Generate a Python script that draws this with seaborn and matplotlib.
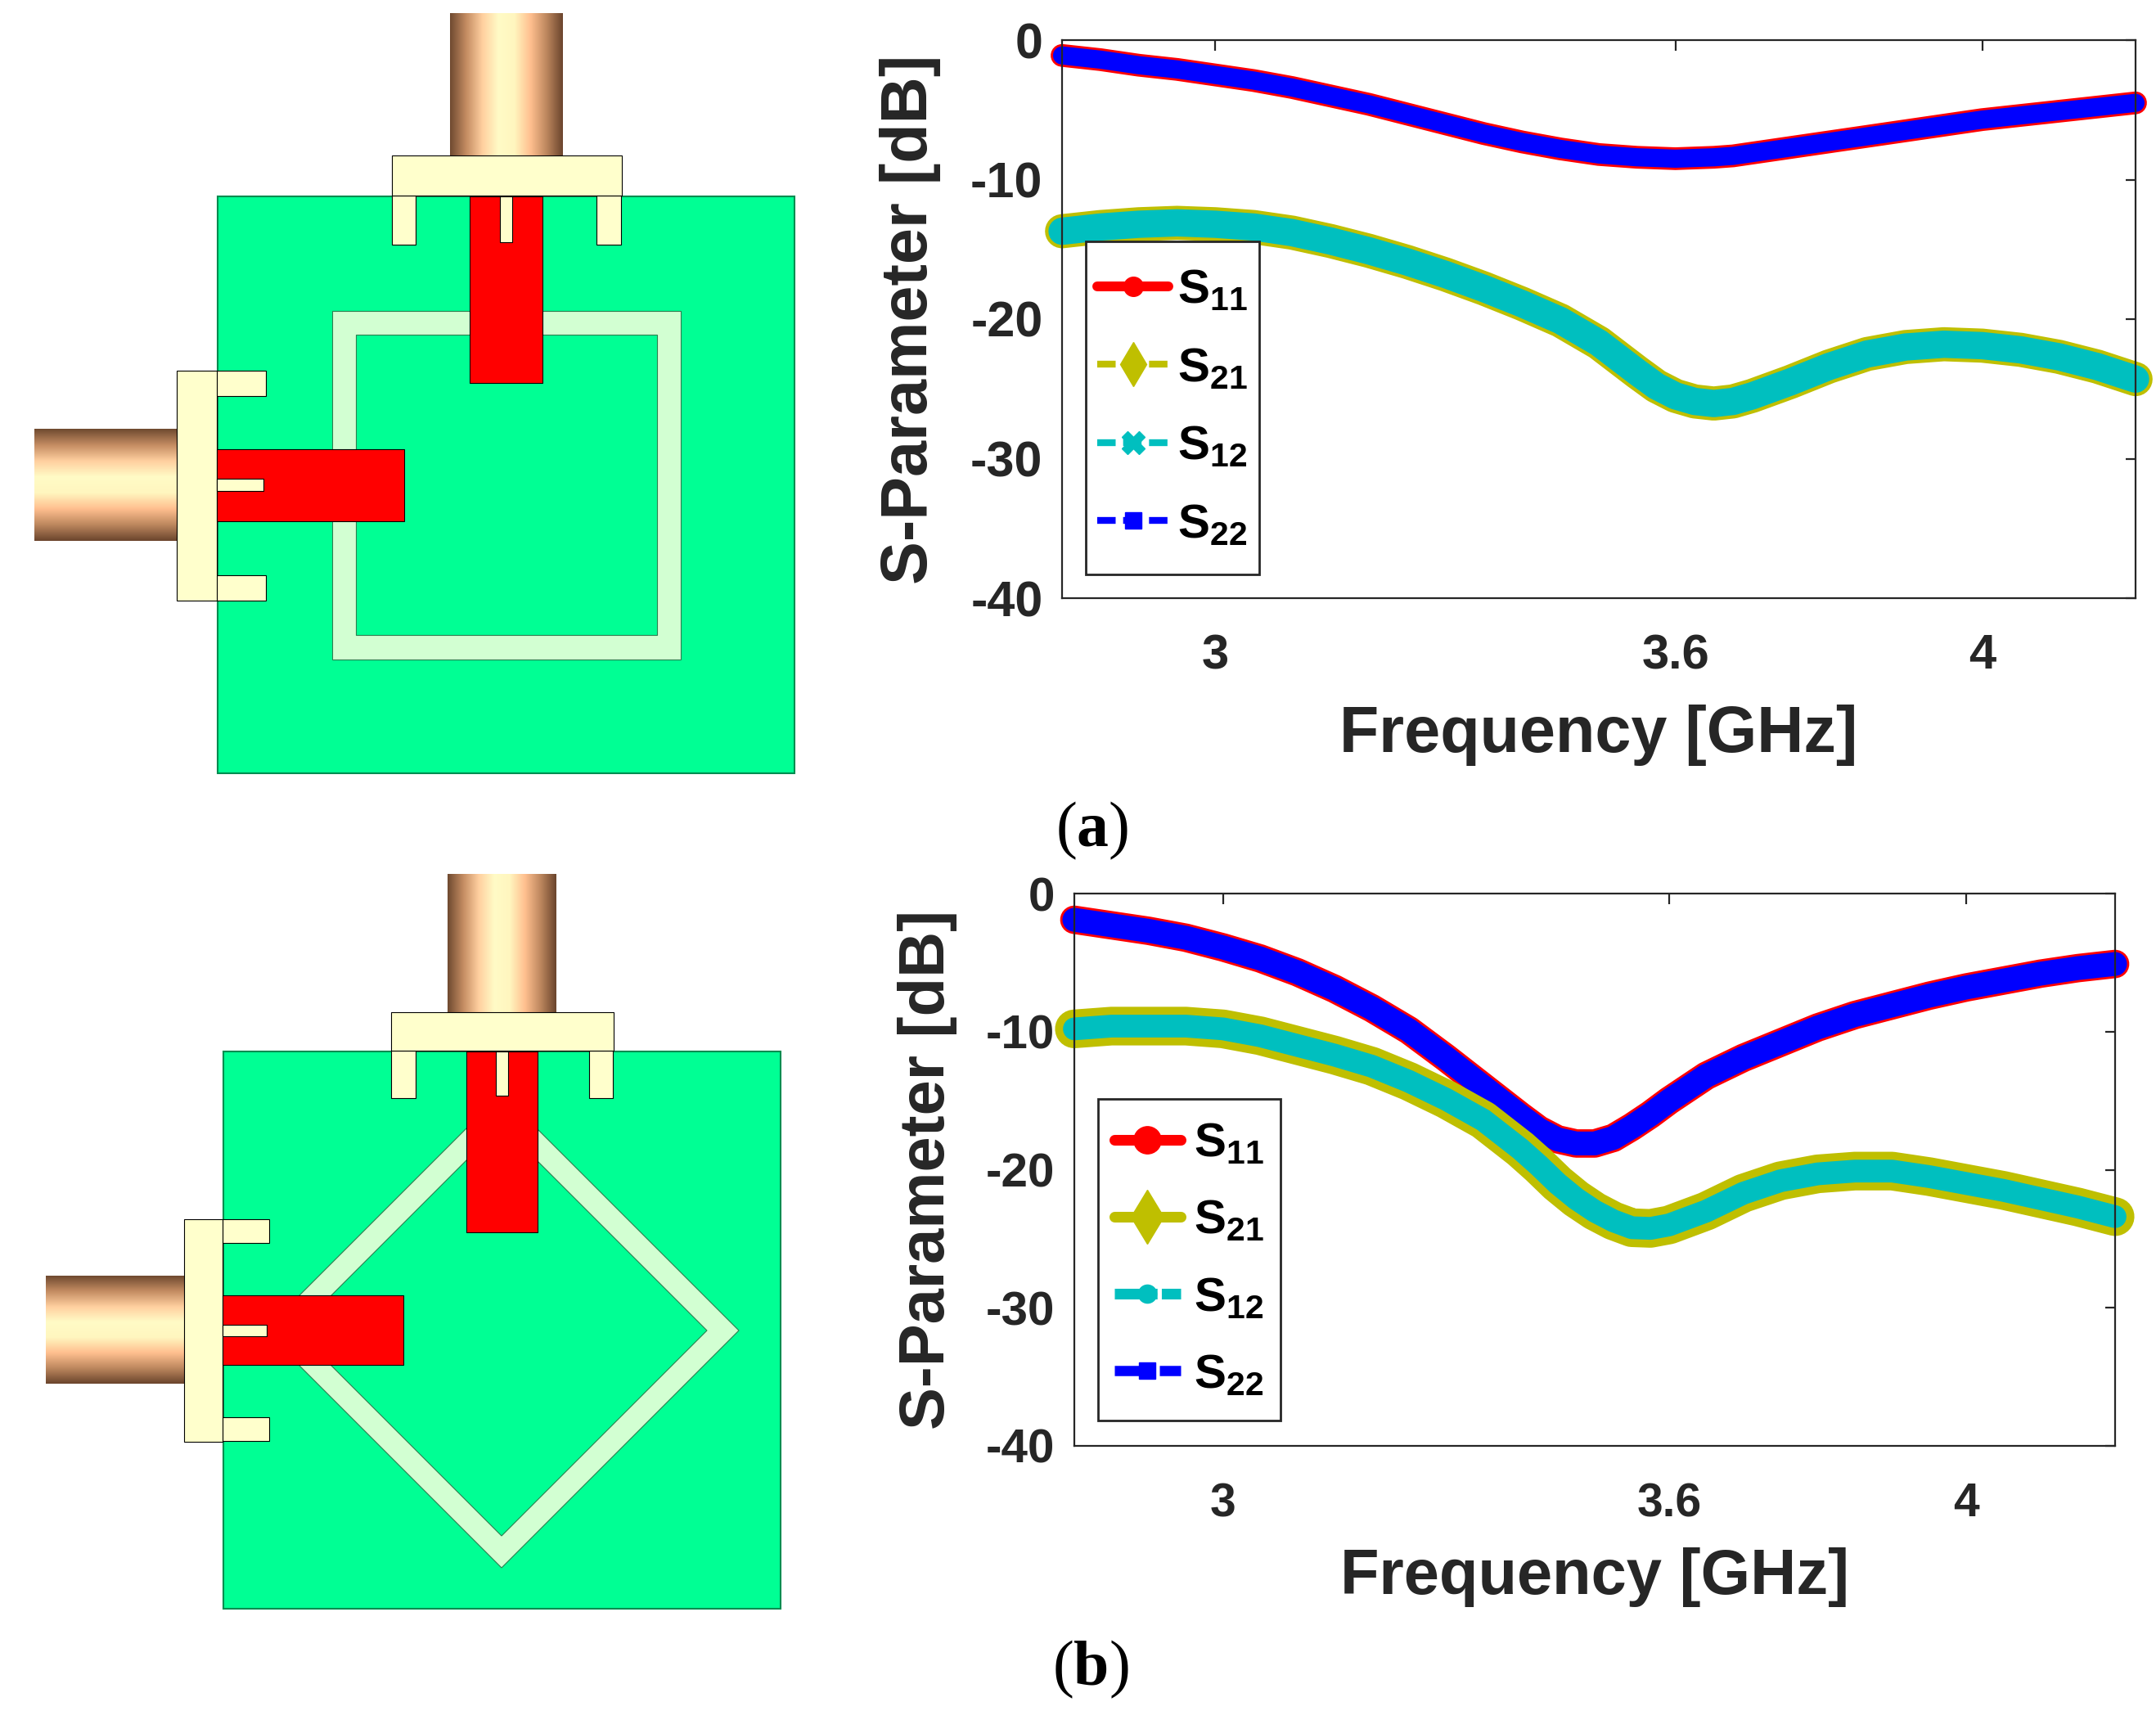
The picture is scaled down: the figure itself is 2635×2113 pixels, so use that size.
import pandas as pd
import numpy as np
import matplotlib
matplotlib.use('Agg')
import matplotlib.pyplot as plt
import seaborn as sns
from matplotlib.colors import LinearSegmentedColormap
from matplotlib.lines import Line2D
from matplotlib.patches import Polygon, Rectangle

W, H = 2635, 2113

# -----------------------------
# Data
# -----------------------------
freq_a = [2.80, 2.85, 2.90, 2.95, 3.00, 3.05, 3.10, 3.15, 3.20, 3.25, 3.30, 3.35, 3.40, 3.45, 3.50, 3.55,
          3.575, 3.60, 3.625, 3.65, 3.675, 3.70,
          3.75, 3.80, 3.85, 3.90, 3.95, 4.00, 4.05, 4.10, 4.15, 4.20]
s11_a = [-1.1, -1.4, -1.8, -2.1, -2.5, -2.9, -3.4, -4.0, -4.6, -5.3, -6.0, -6.7, -7.3, -7.8, -8.2, -8.4,
         -8.45, -8.5, -8.45, -8.4, -8.3, -8.1,
         -7.7, -7.3, -6.9, -6.5, -6.1, -5.7, -5.4, -5.1, -4.8, -4.5]
s21_a = [-13.7, -13.4, -13.2, -13.1, -13.2, -13.4, -13.8, -14.4, -15.1, -15.9, -16.8, -17.8, -18.9, -20.1, -21.7, -23.8,
         -24.8, -25.5, -25.9, -26.05, -25.9, -25.5,
         -24.5, -23.4, -22.5, -22.0, -21.8, -21.9, -22.2, -22.7, -23.4, -24.3]
s12_a = list(s21_a)
s22_a = list(s11_a)

freq_b = [2.80, 2.85, 2.90, 2.95, 3.00, 3.05, 3.10, 3.15, 3.20, 3.25, 3.30, 3.35, 3.40,
          3.425, 3.45, 3.475, 3.50, 3.525, 3.55, 3.575, 3.60,
          3.65, 3.70, 3.75, 3.80, 3.85, 3.90, 3.95, 4.00, 4.05, 4.10, 4.15, 4.20]
s11_b = [-1.9, -2.3, -2.7, -3.2, -3.9, -4.7, -5.7, -6.9, -8.3, -9.9, -11.9, -14.0, -16.1,
         -17.1, -17.8, -18.1, -18.1, -17.7, -16.9, -16.0, -15.0,
         -13.2, -11.9, -10.8, -9.7, -8.8, -8.1, -7.4, -6.8, -6.3, -5.8, -5.4, -5.1]
s21_b = [-9.8, -9.6, -9.6, -9.6, -9.8, -10.3, -11.0, -11.7, -12.5, -13.6, -14.9, -16.4, -18.5,
         -19.7, -21.0, -22.1, -23.0, -23.7, -24.2, -24.25, -24.0,
         -23.0, -21.7, -20.8, -20.3, -20.1, -20.1, -20.5, -21.0, -21.5, -22.1, -22.7, -23.4]
s12_b = list(s21_b)
s22_b = list(s11_b)

param_names = [r'$\mathbf{S_{11}}$', r'$\mathbf{S_{21}}$', r'$\mathbf{S_{12}}$', r'$\mathbf{S_{22}}$']
x_ticks = [3, 3.6, 4]
x_tick_labels = ['3', '3.6', '4']
y_ticks = [0, -10, -20, -30, -40]

# -----------------------------
# Style
# -----------------------------
sns.set_theme(style='white')
plt.rcParams['font.family'] = ['Liberation Sans', 'DejaVu Sans']
plt.rcParams['axes.unicode_minus'] = False
plt.rcParams['mathtext.fontset'] = 'custom'
plt.rcParams['mathtext.bf'] = 'Liberation Sans:bold'
plt.rcParams['mathtext.rm'] = 'Liberation Sans:bold'
plt.rcParams['mathtext.sf'] = 'Liberation Serif:bold'

INK = '#262626'
RED, OLIVE, TEAL, BLUE = '#ff0000', '#bfbf00', '#00bfbf', '#0000ff'
BOARD, RING, CREAM = '#00ff94', '#d2ffd2', '#ffffcc'
copper = LinearSegmentedColormap.from_list('copper_tube', [
    '#6f4a30', '#c48c62', '#ffcf9f', '#fffbc6', '#fff6bf', '#ffbf8f', '#bd875e', '#6b452d'])

fig = plt.figure(figsize=(W / 100, H / 100), dpi=100)
fig.patch.set_facecolor('white')

# -----------------------------
# Antenna drawings, in figure pixels
# -----------------------------
back = fig.add_axes([0, 0, 1, 1])
back.set_axis_off()


def box(x0, x1, y0, y1, face, edge='black', lw=0.8):
    back.add_patch(Rectangle((x0, y0), x1 - x0, y1 - y0, facecolor=face, edgecolor=edge, linewidth=lw))


def tube(x0, x1, y0, y1, vertical=True):
    grad = np.linspace(0, 1, 256)
    grad = grad[None, :] if vertical else grad[:, None]
    back.imshow(grad, cmap=copper, extent=(x0, x1, y1, y0), aspect='auto', interpolation='bilinear')


# antenna (a): square ring
box(266, 971, 240, 945, BOARD, '#008c50', 1.5)
box(406, 832, 380, 806, RING, '#2e7d4f')
box(435, 803, 409, 776, BOARD, '#2e7d4f')
tube(550, 688, 16, 190)
box(479, 508, 239, 299, CREAM)
box(729, 759, 239, 299, CREAM)
box(479, 760, 190, 239, CREAM)
box(574, 663, 240, 468, RED)
box(611, 626, 240, 296, CREAM)
tube(42, 216, 524, 661, vertical=False)
box(265, 325, 453, 484, CREAM)
box(265, 325, 703, 734, CREAM)
box(216, 265, 453, 734, CREAM)
box(265, 494, 549, 637, RED)
box(265, 322, 585, 600, CREAM)

# antenna (b): diamond ring
box(273, 954, 1285, 1966, BOARD, '#008c50', 1.5)
cx, cy = 613, 1626
back.add_patch(Polygon([(cx, cy - 290), (cx + 290, cy), (cx, cy + 290), (cx - 290, cy)],
                       facecolor=RING, edgecolor='#2e7d4f', linewidth=0.8))
back.add_patch(Polygon([(cx, cy - 251), (cx + 251, cy), (cx, cy + 251), (cx - 251, cy)],
                       facecolor=BOARD, edgecolor='#2e7d4f', linewidth=0.8))
tube(547, 680, 1068, 1237)
box(478, 508, 1284, 1342, CREAM)
box(720, 749, 1284, 1342, CREAM)
box(478, 750, 1237, 1284, CREAM)
box(570, 657, 1285, 1506, RED)
box(606, 621, 1285, 1339, CREAM)
tube(56, 225, 1559, 1691, vertical=False)
box(272, 329, 1490, 1519, CREAM)
box(272, 329, 1732, 1761, CREAM)
box(225, 272, 1490, 1762, CREAM)
box(272, 493, 1583, 1668, RED)
box(272, 326, 1619, 1633, CREAM)

back.set_xlim(0, W)
back.set_ylim(H, 0)

back.text(1335, 1015, r'($\mathsf{a}$)', family='Liberation Serif', fontsize=56, ha='center', va='center', color='black')
back.text(1333, 2040, r'($\mathsf{b}$)', family='Liberation Serif', fontsize=56, ha='center', va='center', color='black')


# -----------------------------
# S-parameter panels
# -----------------------------
def s_panel(rect, freq, series, widths, handles, leg_rect, leg_opts, ylabel_x, xlabel_y, tick_size, label_size, xpad):
    l, r, t, b = rect
    ax = fig.add_axes([l / W, 1 - b / H, (r - l) / W, (b - t) / H])
    ax.set_facecolor('none')
    df = pd.DataFrame({'freq': freq})
    for (name, vals), color, lw in zip(series, [RED, BLUE, OLIVE, TEAL], widths):
        df['db'] = vals
        sns.lineplot(data=df, x='freq', y='db', color=color, linewidth=lw, ax=ax,
                     legend=False, clip_on=False, solid_capstyle='round', solid_joinstyle='round')
    ax.set_xlim(2.8, 4.2)
    ax.set_ylim(-40, 0)
    ax.set_xticks(x_ticks)
    ax.set_xticklabels(x_tick_labels)
    ax.set_yticks(y_ticks)
    ax.tick_params(direction='in', length=9, width=1.6, top=True, right=True, color=INK, pad=17)
    ax.tick_params(axis='x', labelsize=tick_size - 1, labelcolor=INK, pad=xpad)
    ax.tick_params(axis='y', labelsize=tick_size, labelcolor=INK)
    for lab in ax.get_xticklabels() + ax.get_yticklabels():
        lab.set_fontweight('bold')
    for sp in ax.spines.values():
        sp.set_visible(True)
        sp.set_color(INK)
        sp.set_linewidth(1.6)
    ax.set_xlabel('Frequency [GHz]', fontsize=label_size, fontweight='bold', color=INK)
    ax.set_ylabel('S-Parameter [dB]', fontsize=label_size, fontweight='bold', color=INK)
    ax.xaxis.set_label_coords(0.5, (b - xlabel_y) / (b - t), transform=ax.transAxes)
    ax.xaxis.label.set_va('center')
    ax.yaxis.set_label_coords((ylabel_x - l) / (r - l), 0.5, transform=ax.transAxes)
    ax.yaxis.label.set_va('center')

    # legend box is taller than the legend padding allows, so the frame is drawn apart
    x0, x1, y0, y1 = leg_rect
    ax.add_patch(Rectangle(((x0 - l) / (r - l), (b - y1) / (b - t)), (x1 - x0) / (r - l), (y1 - y0) / (b - t),
                           transform=ax.transAxes, facecolor='white', edgecolor=INK, linewidth=2.0,
                           zorder=4.5, clip_on=False))
    ax.legend(handles=handles, labels=param_names, loc='center',
              bbox_to_anchor=(((x0 + x1) / 2 - l) / (r - l), (b - (y0 + y1) / 2) / (b - t)),
              borderaxespad=0, fontsize=42, borderpad=0, frameon=False, labelcolor='black', **leg_opts)
    return ax


def handle(color, lw, ls, marker, ms):
    return Line2D([], [], color=color, linewidth=lw, linestyle=ls, marker=marker, markersize=ms,
                  markerfacecolor=color, markeredgecolor=color)


dash_a = (0, (2.7, 1.1))
dash_b = (0, (4.0, 0.4))
handles_a = [handle(RED, 8.6, '-', 'o', 17),
             handle(OLIVE, 6, dash_a, 'd', 28),
             handle(TEAL, 6, dash_a, 'X', 20),
             handle(BLUE, 6, dash_a, 's', 14)]
handles_b = [handle(RED, 9.4, '-', 'o', 24),
             handle(OLIVE, 9.4, '-', 'd', 34),
             handle(TEAL, 9.4, dash_b, 'o', 16),
             handle(BLUE, 9, dash_b, 's', 14)]

s_panel((1298, 2610, 49, 731), freq_a,
        [('S11', s11_a), ('S22', s22_a), ('S21', s21_a), ('S12', s12_a)],
        [20, 16, 30, 24], handles_a, (1327, 1539, 295, 702),
        dict(handlelength=1.5, handletextpad=0.19, labelspacing=0.71),
        1113, 898, 44, 57, 31)
s_panel((1313, 2585, 1092, 1767), freq_b,
        [('S11', s11_b), ('S22', s22_b), ('S21', s21_b), ('S12', s12_b)],
        [25, 21, 34, 20], handles_b, (1342, 1565, 1343, 1736),
        dict(handlelength=1.38, handletextpad=0.28, labelspacing=0.69),
        1133, 1928, 42, 56, 32)

plt.savefig('out.png', dpi=100)
print('saved out.png')
